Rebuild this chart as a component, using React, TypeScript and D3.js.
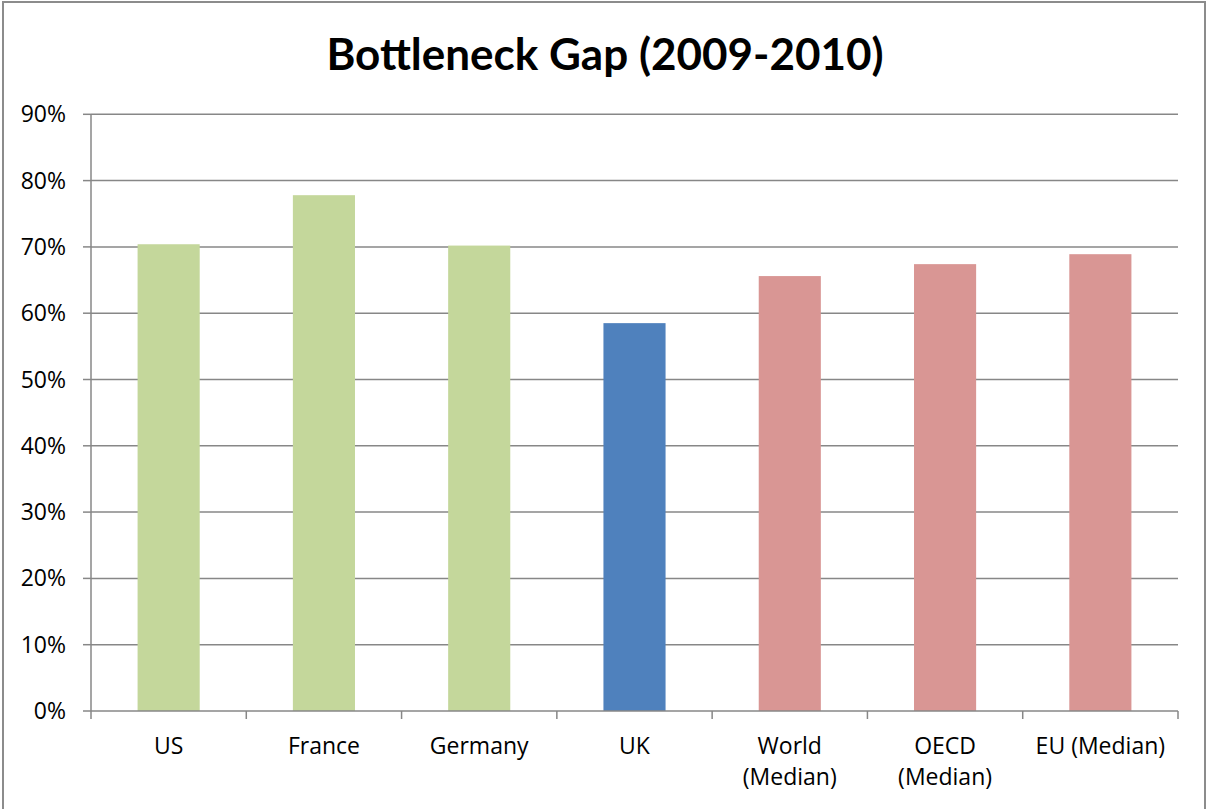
import React from "react";
import * as d3 from "d3";

const categories = ["US", "France", "Germany", "UK", "World (Median)", "OECD (Median)", "EU (Median)"];
const labelLines = [["US"], ["France"], ["Germany"], ["UK"], ["World", "(Median)"], ["OECD", "(Median)"], ["EU (Median)"]];
const values = [0.704, 0.778, 0.702, 0.585, 0.656, 0.674, 0.689];
const barColors = ["#C4D79B", "#C4D79B", "#C4D79B", "#4F81BD", "#D99694", "#D99694", "#D99694"];
const yTicks = [0, 0.1, 0.2, 0.3, 0.4, 0.5, 0.6, 0.7, 0.8, 0.9];
const title = "Bottleneck Gap (2009-2010)";

const W = 1206, H = 809;
const left = 91, right = 1178, top = 114.3, bottom = 711;
const titleFont = "Lato, 'Open Sans', sans-serif";
const font = "'Open Sans', Lato, sans-serif";

export default function App() {
  const x = d3.scaleBand<string>().domain(categories).range([left, right]).paddingInner(0.6).paddingOuter(0.3);
  const y = d3.scaleLinear().domain([0, 0.9]).range([bottom, top]);
  const fmt = d3.format(".0%");
  const bounds = d3.range(categories.length + 1).map((i) => left + (right - left) * i / categories.length);
  const grid = "#878787";
  return (
    <svg width={W} height={H} style={{ position: "absolute", left: 0, top: 0, background: "#fff" }}>
      <rect x={3} y={2} width={1202} height={840} fill="#fff" stroke="#8c8c8c" strokeWidth={2} />
      <text x={605} y={70} textAnchor="middle" fontFamily={titleFont} fontWeight="bold" fontSize={44} fill="#000">{title}</text>
      {yTicks.map((t) => (
        <g key={t}>
          {t > 0 && <line x1={left} x2={right} y1={y(t)} y2={y(t)} stroke={grid} strokeWidth={1.5} />}
          <line x1={left - 8} x2={left} y1={y(t)} y2={y(t)} stroke={grid} strokeWidth={1.5} />
          <text x={66} y={y(t) + 8} textAnchor="end" fontFamily={font} fontSize={23} fill="#000">{fmt(t)}</text>
        </g>
      ))}
      {categories.map((c, i) => (
        <rect key={c} x={x(c)} y={y(values[i])} width={x.bandwidth()} height={bottom - y(values[i])} fill={barColors[i]} />
      ))}
      <line x1={left} x2={left} y1={top} y2={bottom} stroke={grid} strokeWidth={1.5} />
      <line x1={left} x2={right} y1={bottom} y2={bottom} stroke={grid} strokeWidth={1.5} />
      {bounds.map((b, i) => (
        <line key={i} x1={b} x2={b} y1={bottom} y2={bottom + 8} stroke={grid} strokeWidth={1.5} />
      ))}
      {categories.map((c, i) => (
        <text key={c} textAnchor="middle" fontFamily={font} fontSize={23} fill="#000">
          {labelLines[i].map((l, j) => (
            <tspan key={j} x={(x(c) as number) + x.bandwidth() / 2} y={754 + j * 31}>{l}</tspan>
          ))}
        </text>
      ))}
    </svg>
  );
}
